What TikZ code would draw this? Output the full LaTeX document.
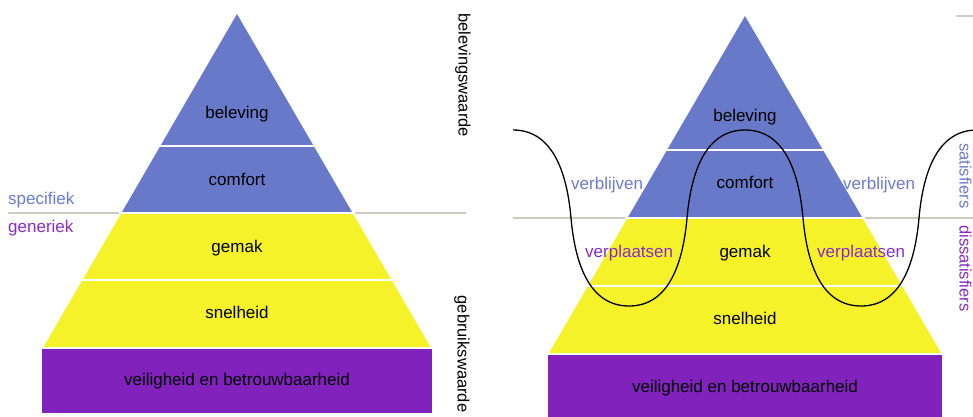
\documentclass[tikz,border=0pt]{standalone}
\usepackage{fontspec}
\setmainfont{Liberation Sans}
\definecolor{pblue}{HTML}{6879C9}
\definecolor{pyellow}{HTML}{F6F22A}
\definecolor{ppurple}{HTML}{8022BB}
\definecolor{lblue}{HTML}{6C7BD0}
\definecolor{lpurple}{HTML}{8A2BC6}
\definecolor{grayline}{HTML}{CFCBC3}
\begin{document}
\begin{tikzpicture}[x=1pt,y=-1pt]
\tikzset{
  txt/.style={font=\fontsize{17}{20}\selectfont, inner sep=0pt},
  lvl/.style={txt, anchor=base, text=black},
  side/.style={txt, anchor=base west},
  vert/.style={font=\fontsize{16.5}{20}\selectfont, inner sep=0pt, rotate=-90, text=black},
  vertr/.style={font=\fontsize{16.5}{20}\selectfont, inner sep=0pt, rotate=-90, anchor=base west},
  divider/.style={draw=grayline, line width=1.5pt},
  sepline/.style={draw=white, line width=1.8pt},
  wave/.style={draw=black, line width=1.3pt},
}
\fill[white] (0,0) rectangle (973,416);
\useasboundingbox (0,0) rectangle (973,416);
\clip (0,0) rectangle (973,416);

% ---------------- left pyramid ----------------
\draw[divider] (8,213) -- (466,213);
\fill[pblue] (237,14) -- (352.6,213) -- (121.4,213) -- cycle;
\fill[pyellow] (121.4,213) -- (352.6,213) -- (430.5,347) -- (43.5,347) -- cycle;
\fill[ppurple] (42,349) rectangle (432,413);
\draw[sepline] (158,146) -- (316,146);
\draw[sepline] (119,213) -- (355,213);
\draw[sepline] (80,280) -- (394,280);

\node[lvl] (lbel) at (237,118) {beleving};
\node[lvl] (lcom) at (237,185) {comfort};
\node[lvl] (lgem) at (237,252) {gemak};
\node[lvl] (lsne) at (237,318) {snelheid};
\node[lvl] (lvei) at (237,385) {veiligheid en betrouwbaarheid};

\node[side, text=lblue] (spec) at (8,204) {specifiek};
\node[side, text=lpurple] (gene) at (8,232) {generiek};

\node[vert] (belw) at (463,75) {belevingswaarde};
\node[vert] (gebw) at (462,354) {gebruikswaarde};

% ---------------- right pyramid ----------------
\draw[divider] (513,218) -- (975,218);
\draw[divider] (956,16) -- (975,16);
\fill[pblue] (745,16) -- (862.5,218) -- (627.5,218) -- cycle;
\fill[pyellow] (627.5,218) -- (862.5,218) -- (941,353) -- (549,353) -- cycle;
\fill[ppurple] (548,355) rectangle (942,420);
\draw[sepline] (665,150) -- (825,150);
\draw[sepline] (625,218) -- (865,218);
\draw[sepline] (586,286) -- (904,286);

\node[lvl] (rbel) at (745,121) {beleving};
\node[lvl] (rcom) at (745,188) {comfort};
\node[lvl] (rgem) at (745,257) {gemak};
\node[lvl] (rsne) at (745,324) {snelheid};
\node[lvl] (rvei) at (745,392) {veiligheid en betrouwbaarheid};

\node[side, text=lblue] (verbl) at (571,189) {verblijven};
\node[side, text=lpurple] (verpl) at (585,257) {verplaatsen};
\node[side, text=lblue] (verbr) at (843,189) {verblijven};
\node[side, text=lpurple] (verpr) at (817,257) {verplaatsen};

\node[vertr, text=lblue] (sat) at (959.5,143) {satisfiers};
\node[vertr, text=lpurple] (dis) at (959.5,225) {dissatisfiers};

\draw[wave] (513,130) .. controls (553,130) and (567,173) .. (571,218)
  .. controls (575,263) and (589,306) .. (629,306)
  .. controls (669,306) and (683,263) .. (687,218)
  .. controls (691,173) and (705,130) .. (745,130)
  .. controls (785,130) and (799,173) .. (803,218)
  .. controls (807,263) and (821,306) .. (861,306)
  .. controls (901,306) and (915,263) .. (919,218)
  .. controls (923,173) and (937,130) .. (977,130);
\end{tikzpicture}
\end{document}
